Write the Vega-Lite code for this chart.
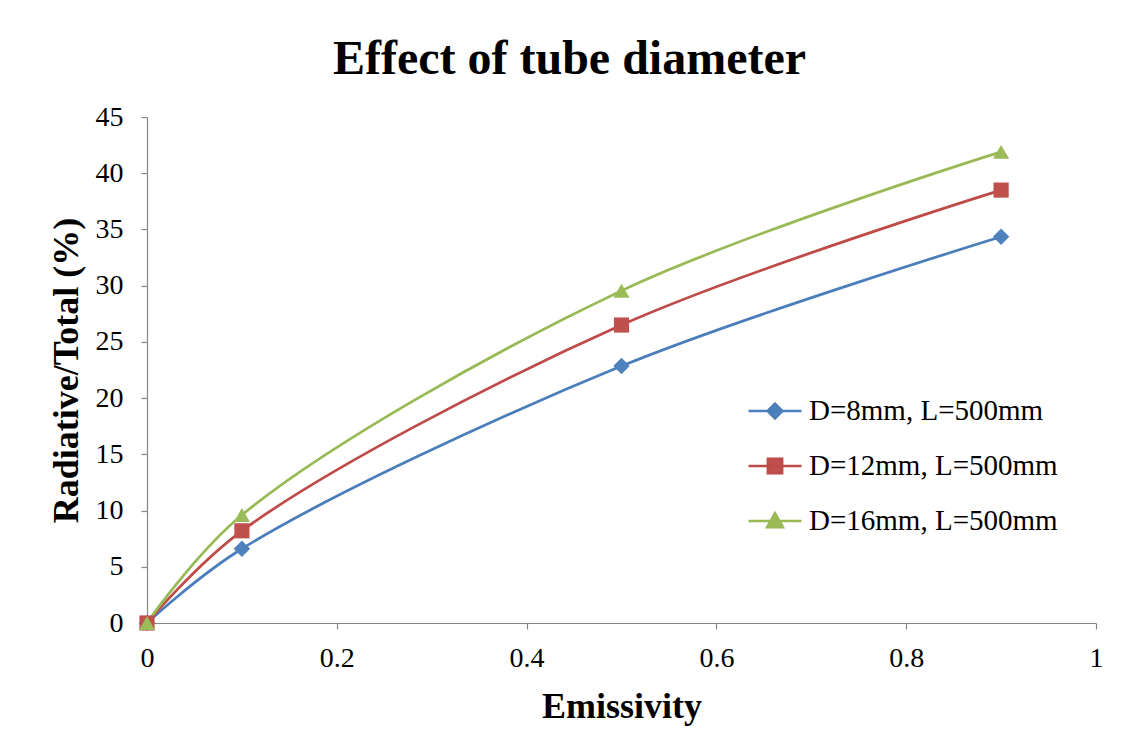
{
  "$schema": "https://vega.github.io/schema/vega-lite/v6.json",
  "width": 949,
  "height": 506,
  "autosize": {"type": "none"},
  "padding": {"left": 147, "top": 117, "right": 30, "bottom": 130},
  "background": "white",
  "title": {
    "text": "Effect of tube diameter",
    "font": "Liberation Serif",
    "fontSize": 48,
    "fontWeight": "bold",
    "color": "black",
    "anchor": "middle",
    "frame": "group",
    "dx": -52,
    "offset": 19
  },
  "config": {
    "view": {"stroke": null},
    "font": "Liberation Serif",
    "axis": {
      "grid": false,
      "domainColor": "#868686",
      "tickColor": "#868686",
      "domainWidth": 1.2,
      "tickWidth": 1.2,
      "tickSize": 6,
      "labelFlush": false,
      "labelFont": "Liberation Serif",
      "labelFontSize": 28,
      "labelColor": "black",
      "titleFont": "Liberation Serif",
      "titleFontSize": 36,
      "titleFontWeight": "bold",
      "titleColor": "black"
    }
  },
  "data": {
    "values": [
      {"e": 0, "r": 0, "s": "D=8mm, L=500mm"},
      {"e": 0.1, "r": 6.6, "s": "D=8mm, L=500mm"},
      {"e": 0.5, "r": 22.85, "s": "D=8mm, L=500mm"},
      {"e": 0.9, "r": 34.35, "s": "D=8mm, L=500mm"},
      {"e": 0, "r": 0, "s": "D=12mm, L=500mm"},
      {"e": 0.1, "r": 8.2, "s": "D=12mm, L=500mm"},
      {"e": 0.5, "r": 26.5, "s": "D=12mm, L=500mm"},
      {"e": 0.9, "r": 38.5, "s": "D=12mm, L=500mm"},
      {"e": 0, "r": 0, "s": "D=16mm, L=500mm"},
      {"e": 0.1, "r": 9.6, "s": "D=16mm, L=500mm"},
      {"e": 0.5, "r": 29.55, "s": "D=16mm, L=500mm"},
      {"e": 0.9, "r": 41.9, "s": "D=16mm, L=500mm"}
    ]
  },
  "encoding": {
    "x": {
      "field": "e",
      "type": "quantitative",
      "scale": {"domain": [0, 1], "nice": false},
      "axis": {"values": [0, 0.2, 0.4, 0.6, 0.8, 1], "title": "Emissivity", "labelPadding": 15, "titlePadding": 17, "format": "~g"}
    },
    "y": {
      "field": "r",
      "type": "quantitative",
      "scale": {"domain": [0, 45], "nice": false},
      "axis": {"values": [0, 5, 10, 15, 20, 25, 30, 35, 40, 45], "title": "Radiative/Total (%)", "labelPadding": 18, "titlePadding": 10}
    }
  },
  "layer": [
    {
      "mark": {"type": "line", "interpolate": "catmull-rom", "strokeWidth": 2.75},
      "encoding": {
        "color": {
          "field": "s",
          "type": "nominal",
          "sort": ["D=8mm, L=500mm", "D=12mm, L=500mm", "D=16mm, L=500mm"],
          "scale": {"domain": ["D=8mm, L=500mm", "D=12mm, L=500mm", "D=16mm, L=500mm"], "range": ["#4A7EBB", "#BE4B48", "#98B954"]},
          "legend": {
            "title": null,
            "orient": "none",
            "legendX": 600,
            "legendY": 266,
            "labelFont": "Liberation Serif",
            "labelFontSize": 29,
            "labelColor": "black",
            "labelLimit": 0,
            "labelOffset": 6,
            "symbolSize": 2809,
            "rowPadding": 12,
            "encode": {
              "symbols": {
                "update": {
                  "shape": {"signal": "datum.value === 'D=8mm, L=500mm' ? 'M-1,0H1M0,-0.28L0.28,0L0,0.28L-0.28,0Z' : datum.value === 'D=12mm, L=500mm' ? 'M-1,0H1M-0.27,-0.27H0.27V0.27H-0.27Z' : 'M-1,0H1M0,-0.3L0.3,0.24L-0.3,0.24Z'"},
                  "fill": {"signal": "datum.value === 'D=8mm, L=500mm' ? '#4F81BD' : datum.value === 'D=12mm, L=500mm' ? '#C0504D' : '#9BBB59'"},
                  "stroke": {"scale": "color", "field": "value"},
                  "strokeWidth": {"value": 2.5},
                  "size": {"value": 2809},
                  "opacity": {"value": 1}
                }
              }
            }
          }
        }
      }
    },
    {
      "transform": [{"filter": "datum.s === 'D=8mm, L=500mm'"}],
      "mark": {"type": "point", "shape": "diamond", "filled": true, "opacity": 1, "size": 270, "color": "#4F81BD"}
    },
    {
      "transform": [{"filter": "datum.s === 'D=12mm, L=500mm'"}],
      "mark": {"type": "point", "shape": "square", "filled": true, "opacity": 1, "size": 230, "color": "#C0504D"}
    },
    {
      "transform": [{"filter": "datum.s === 'D=16mm, L=500mm'"}],
      "mark": {"type": "point", "shape": "triangle-up", "filled": true, "opacity": 1, "size": 260, "color": "#9BBB59"}
    }
  ]
}
